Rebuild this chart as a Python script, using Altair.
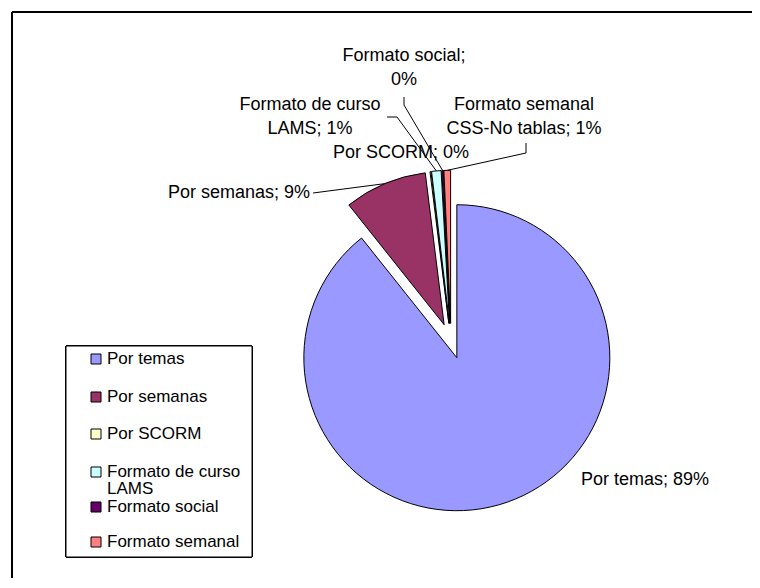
import altair as alt
import pandas as pd
import numpy as np

# ---------------- data ----------------
categories = ["Por temas", "Por semanas", "Por SCORM", "Formato de curso LAMS",
              "Formato social", "Formato semanal CSS-No tablas"]
values = [89.3, 8.73, 0.1, 1.0, 0.17, 0.7]
colors = ["#9999FF", "#993366", "#FFFFCC", "#CCFFFF", "#660066", "#FF8080"]
label_prefix = ["Por temas; ", "Por semanas; ", "Por SCORM; ", "Formato de curso\nLAMS; ",
                "Formato social;\n", "Formato semanal\nCSS-No tablas; "]
legend_texts = ["Por temas", "Por semanas", "Por SCORM", "Formato de curso\nLAMS",
                "Formato social", "Formato semanal"]

# ---------------- layout (page pixels) ----------------
OFF = 8
W, H = 744, 570
CX, CY = 451 - OFF, 341 - OFF
R = 153
EXP = 17.7
FONT = "Liberation Sans"

label_pos = {  # x, y of first line centre, align
    "Por temas": (581, 480, "left"),
    "Por semanas": (310, 193, "right"),
    "Por SCORM": (401, 153, "center"),
    "Formato de curso LAMS": (310, 105, "center"),
    "Formato social": (404, 56, "center"),
    "Formato semanal CSS-No tablas": (524, 105, "center"),
}
leader_pts = {
    "Por semanas": [(313, 193)],
    "Formato de curso LAMS": [(387, 117), (397, 117)],
    "Formato social": [(404, 97), (404, 105)],
    "Formato semanal CSS-No tablas": [(526, 143), (526, 153)],
}
legend_rows_y = [359, 397, 434, 472, 507, 542]
LEG_BOX = (66, 346, 252, 557)
LEG_SYM_X = 96
LEG_TXT_X = 107

# ---------------- tables ----------------
df = pd.DataFrame({"cat": categories, "value": values, "order": range(len(categories))})

total = sum(values)
cum = np.cumsum(values)
mids = [(c - v / 2) / total * 2 * np.pi for c, v in zip(cum, values)]

lab_rows = []
for cat, v, pre in zip(categories, values, label_prefix):
    x, y, a = label_pos[cat]
    lab_rows.append({"cat": cat, "text": f"{pre}{round(v / total * 100):.0f}%",
                     "x": x - OFF, "y": y - OFF, "align": a})
lab_df = pd.DataFrame(lab_rows)

lead_rows = []
for i, cat in enumerate(categories):
    if cat not in leader_pts:
        continue
    pts = [(px - OFF, py - OFF) for px, py in leader_pts[cat]]
    m = mids[i]
    ex, ey = CX + EXP * np.sin(m), CY - EXP * np.cos(m)
    pts.append((ex + R * np.sin(m), ey - R * np.cos(m)))
    for k, (px, py) in enumerate(pts):
        lead_rows.append({"cat": cat, "k": k, "x": px, "y": py})
lead_df = pd.DataFrame(lead_rows)

leg_df = pd.DataFrame({"cat": categories, "text": legend_texts,
                       "y": [y - OFF for y in legend_rows_y]})

color_scale = alt.Scale(domain=categories, range=colors)
xn = lambda f: alt.X(f, scale=None, axis=None)
yn = lambda f: alt.Y(f, scale=None, axis=None)

# ---------------- pie ----------------
pie = alt.Chart(df).transform_joinaggregate(
    total="sum(value)"
).transform_window(
    cum="sum(value)", sort=[alt.SortField("order")], frame=[None, 0]
).transform_calculate(
    start="(datum.cum - datum.value) / datum.total * 2 * PI",
    end="datum.cum / datum.total * 2 * PI",
    mid="(datum.cum - datum.value / 2) / datum.total * 2 * PI",
    cx=f"{CX} + {EXP} * sin(datum.mid)",
    cy=f"{CY} - {EXP} * cos(datum.mid)",
).mark_arc(radius=R, stroke="black", strokeWidth=1, strokeJoin="miter").encode(
    theta=alt.Theta("start:Q", scale=None),
    theta2="end:Q",
    x=xn("cx:Q"),
    y=yn("cy:Q"),
    color=alt.Color("cat:N", scale=color_scale, legend=None),
)

leaders = alt.Chart(lead_df).mark_line(color="black", strokeWidth=1).encode(
    x=xn("x:Q"), y=yn("y:Q"), detail="cat:N", order="k:Q"
)

def label_layer(align):
    return alt.Chart(lab_df).transform_filter(
        alt.datum.align == align
    ).mark_text(align=align, baseline="middle", font=FONT, fontSize=18,
                lineBreak="\n", lineHeight=24, color="black").encode(
        x=xn("x:Q"), y=yn("y:Q"), text="text:N"
    )

labels = label_layer("left") + label_layer("right") + label_layer("center")

# ---------------- legend ----------------
bx0, by0, bx1, by1 = LEG_BOX
leg_box = alt.Chart(df).mark_rect(fill="white", stroke="black", strokeWidth=1).encode(
    x=alt.value(bx0 - OFF), x2=alt.value(bx1 - OFF),
    y=alt.value(by0 - OFF), y2=alt.value(by1 - OFF),
)
leg_sym = alt.Chart(leg_df).mark_square(size=100, filled=True, opacity=1,
                                        stroke="black", strokeWidth=1).encode(
    x=alt.value(LEG_SYM_X - OFF), y=yn("y:Q"),
    color=alt.Color("cat:N", scale=color_scale, legend=None),
)
leg_txt = alt.Chart(leg_df).mark_text(align="left", baseline="middle", font=FONT, fontSize=17,
                                      lineBreak="\n", lineHeight=17, color="black").encode(
    x=alt.value(LEG_TXT_X - OFF), y=yn("y:Q"), text="text:N"
)

# ---------------- outer frame (top & left) ----------------
frame_top = alt.Chart(df).mark_rule(color="black", strokeWidth=2).encode(
    x=alt.value(12 - OFF), x2=alt.value(W), y=alt.value(12 - OFF)
)
frame_left = alt.Chart(df).mark_rule(color="black", strokeWidth=2).encode(
    x=alt.value(12 - OFF), y=alt.value(12 - OFF), y2=alt.value(H)
)

chart = alt.layer(
    pie, leaders, labels, leg_box, leg_sym, leg_txt, frame_top, frame_left
).properties(
    width=W, height=H, padding=0, autosize=alt.AutoSizeParams(type="none"),
    background="white",
).configure_view(stroke=None)

chart.save("out.html", embed_options={"renderer": "svg", "actions": False})
